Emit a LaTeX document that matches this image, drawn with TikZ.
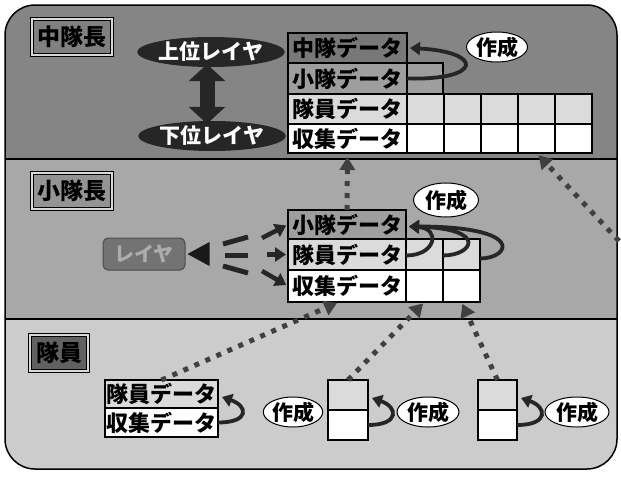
\documentclass[tikz,border=0pt]{standalone}
\usepackage{fontspec}
\newfontfamily\cjk{Noto Sans CJK JP}
\usetikzlibrary{shapes.geometric,arrows.meta,calc}
\definecolor{bgtop}{gray}{0.52}
\definecolor{bgmid}{gray}{0.66}
\definecolor{bgbot}{gray}{0.80}
\definecolor{cA}{gray}{0.47}
\definecolor{cB}{gray}{0.62}
\definecolor{cC}{gray}{0.86}
\newcommand\mkcell[7]{\node[cellbox,fill=#6,anchor=north west,minimum width=#4,minimum height=#5] (#1) at (#2,#3) {#7};}
\begin{document}
\begin{tikzpicture}[x=1pt,y=-1pt,
  cellbox/.style={draw=black,line width=2.6pt,inner sep=0pt,outer sep=0pt,font=\cjk\bfseries\fontsize{22}{24}\selectfont},
  lab/.style={draw=black,line width=0.8pt,double=black!15,double distance=2.5pt,inner sep=0pt,font=\cjk\bfseries\fontsize{23}{25}\selectfont},
  layer/.style={ellipse,fill=black!85,text=white,inner sep=0pt,minimum width=134,minimum height=30,font=\cjk\bfseries\fontsize{21}{23}\selectfont},
  make/.style={ellipse,draw=black,line width=1pt,fill=white,inner sep=0pt,minimum height=30,font=\cjk\bfseries\fontsize{21}{23}\selectfont},
  dotar/.style={line width=5pt,black!75,dash pattern=on 5pt off 7pt,-{Triangle[length=13pt,width=15pt]}},
  curv/.style={line width=3.8pt,black!85,-{Triangle[length=10pt,width=13pt]}},
  feed/.style={line width=4.5pt,black!85,-{Triangle[length=11pt,width=14pt]},shorten >=2pt}
]
\useasboundingbox (0,0) rectangle (621,477);
% bands and frame
\begin{scope}
\clip[rounded corners=30pt] (5,5) rectangle (617,469);
\fill[bgtop] (0,0) rectangle (621,159);
\fill[bgmid] (0,159) rectangle (621,319);
\fill[bgbot] (0,319) rectangle (621,477);
\end{scope}
\draw[line width=1.2pt] (5,159) -- (617,159);
\draw[line width=1.2pt] (5,319) -- (617,319);
\draw[line width=1.5pt,rounded corners=30pt] (5,5) rectangle (617,469);

% section labels
\node[lab,fill=black!50,minimum width=80,minimum height=36] (Lc) at (72,37) {中隊長};
\node[lab,fill=black!42,minimum width=80,minimum height=36] (Ls) at (72,191) {小隊長};
\node[lab,fill=black!62,minimum width=58,minimum height=36] (Lm) at (59,353) {隊員};

% upper / lower layer
\node[layer] (up) at (211,52) {上位レイヤ};
\node[layer] (down) at (212,136) {下位レイヤ};
\draw[line width=15pt,black!85,{Triangle[length=17pt,width=36pt]}-{Triangle[length=17pt,width=36pt]},shorten <=-3pt,shorten >=-3pt] ($(up.south)+(-4,0)$) -- ($(up.south |- down.north)+(-4,0)$);

% top table
\mkcell{T1}{288}{33}{119}{30}{cA}{中隊データ}
\mkcell{T2}{288}{63}{119}{31}{cB}{小隊データ}
\mkcell{T2c}{407}{63}{36}{31}{cB}{}
\mkcell{T3}{288}{94}{119}{30}{cC}{隊員データ}
\mkcell{T3a}{407}{94}{37}{30}{cC}{}
\mkcell{T3b}{444}{94}{37}{30}{cC}{}
\mkcell{T3c}{481}{94}{37}{30}{cC}{}
\mkcell{T3d}{518}{94}{37}{30}{cC}{}
\mkcell{T3e}{555}{94}{37}{30}{cC}{}
\mkcell{T4}{288}{124}{119}{29}{white}{収集データ}
\mkcell{T4a}{407}{124}{37}{29}{white}{}
\mkcell{T4b}{444}{124}{37}{29}{white}{}
\mkcell{T4c}{481}{124}{37}{29}{white}{}
\mkcell{T4d}{518}{124}{37}{29}{white}{}
\mkcell{T4e}{555}{124}{37}{29}{white}{}
\node[make,minimum width=61] (mk1) at (497,47) {作成};
\draw[curv] (T2.east) .. controls +(76,2) and +(74,4) .. ($(T1.east)+(3,0)$);

% middle table
\mkcell{M1}{288}{210}{118}{29}{cB}{小隊データ}
\mkcell{M2}{288}{239}{118}{31}{cC}{隊員データ}
\mkcell{M2a}{406}{239}{37}{31}{cC}{}
\mkcell{M2b}{443}{239}{37}{31}{cC}{}
\mkcell{M3}{288}{270}{118}{32}{white}{収集データ}
\mkcell{M3a}{406}{270}{37}{32}{white}{}
\mkcell{M3b}{443}{270}{37}{32}{white}{}
\node[make,minimum width=65,minimum height=34] (mk2) at (446,200) {作成};
\draw[curv] ($(M2.east)+(0,1)$) .. controls +(30,0) and +(32,2) .. ($(M1.east)+(3,2)$);
\draw[curv] ($(M2a.east)+(0,1)$) .. controls +(30,0) and +(80,2) .. ($(M1.east)+(3,2)$);
\draw[curv] ($(M2b.east)+(0,4)$) .. controls +(30,0) and +(118,0) .. ($(M1.east)+(3,2)$);

% layer box and arrows
\node[draw=black!70,line width=1pt,rounded corners=5pt,fill=black!55,text=black!32,minimum width=82,minimum height=32,inner sep=0pt,font=\cjk\bfseries\fontsize{20}{22}\selectfont] (L) at (144,254) {レイヤ};
\fill[black!90] ($(L.east)+(2,0)$) -- ++(22,-12) -- ++(0,24) -- cycle;
\draw[line width=5pt,black!85] (223,244) -- (248,237);
\draw[line width=5pt,black!85] (225,255) -- (248,255);
\draw[line width=5pt,black!85] (223,266) -- (248,273);
\coordinate (a1) at (262,238);
\coordinate (a2) at (267,254.5);
\coordinate (a3) at (262,271);
\draw[feed] (a1) -- (M1.west);
\draw[feed] (a2) -- (M2.west);
\draw[feed] (a3) -- (M3.west);

% bottom
\mkcell{B1}{105}{380}{113}{28}{cC}{隊員データ}
\mkcell{B2}{105}{408}{113}{29}{white}{収集データ}
\mkcell{X1a}{328}{380}{40}{30}{cC}{}
\mkcell{X1b}{328}{410}{40}{30}{white}{}
\mkcell{X2a}{478}{380}{39}{30}{cC}{}
\mkcell{X2b}{478}{410}{39}{30}{white}{}
\node[make,minimum width=50] (mk3) at (293,412) {作成};
\node[make,minimum width=62] (mk4) at (428,412) {作成};
\node[make,minimum width=64] (mk5) at (577,412) {作成};
\draw[curv] (B2.east) .. controls +(32,0) and +(26,9) .. ($(B1.east)+(4,3)$);
\draw[curv] (X1b.east) .. controls +(32,0) and +(26,9) .. ($(X1a.east)+(4,3)$);
\draw[curv] (X2b.east) .. controls +(32,0) and +(26,9) .. ($(X2a.east)+(4,3)$);

% dotted upward arrows
\coordinate (offR) at (619,241);
\draw[dotar,shorten >=4pt] (M1.north) -- (T4.south);
\draw[dotar,shorten >=3pt] (offR) -- (T4d.south);
\draw[dotar,shorten >=2pt] (B1.north) -- ($(M3.south)+(-8,0)$);
\draw[dotar,shorten >=2pt] (X1a.north) -- (M3a.south);
\draw[dotar,shorten >=2pt] (X2a.north) -- (M3b.south);
\end{tikzpicture}
\end{document}
